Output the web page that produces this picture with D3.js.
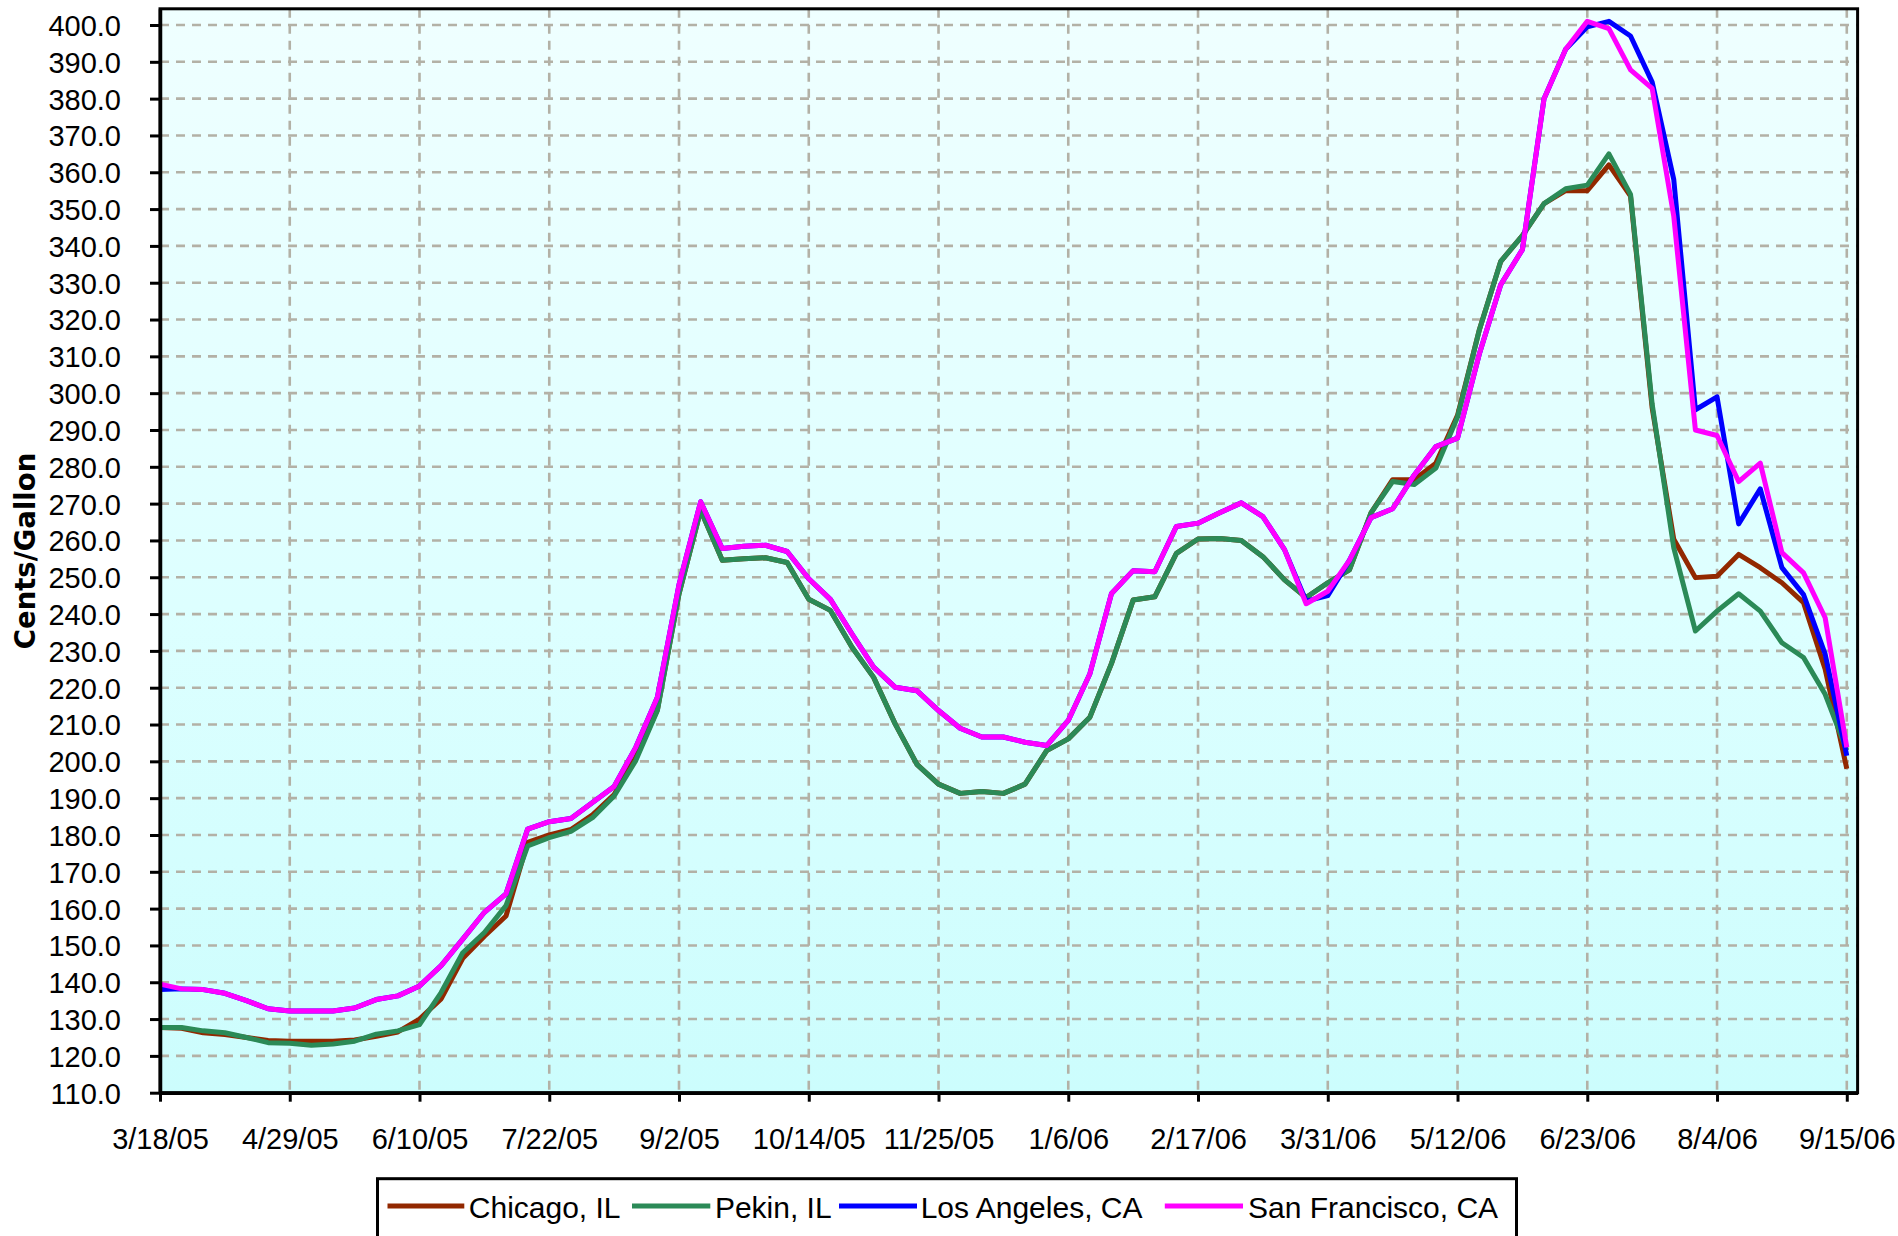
<!DOCTYPE html>
<html><head><meta charset="utf-8">
<script src="https://cdn.jsdelivr.net/npm/d3@7"></script>
<style>
html,body{margin:0;padding:0;background:#fff;}
svg{display:block;}
</style></head><body>
<svg id="chart" width="1898" height="1236"></svg>
<script>
// ---- data ----
const dates = ["3/18/05","3/25/05","4/1/05","4/8/05","4/15/05","4/22/05","4/29/05","5/6/05","5/13/05","5/20/05",
"5/27/05","6/3/05","6/10/05","6/17/05","6/24/05","7/1/05","7/8/05","7/15/05","7/22/05","7/29/05",
"8/5/05","8/12/05","8/19/05","8/26/05","9/2/05","9/9/05","9/16/05","9/23/05","9/30/05","10/7/05",
"10/14/05","10/21/05","10/28/05","11/4/05","11/11/05","11/18/05","11/25/05","12/2/05","12/9/05","12/16/05",
"12/23/05","12/30/05","1/6/06","1/13/06","1/20/06","1/27/06","2/3/06","2/10/06","2/17/06","2/24/06",
"3/3/06","3/10/06","3/17/06","3/24/06","3/31/06","4/7/06","4/14/06","4/21/06","4/28/06","5/5/06",
"5/12/06","5/19/06","5/26/06","6/2/06","6/9/06","6/16/06","6/23/06","6/30/06","7/7/06","7/14/06",
"7/21/06","7/28/06","8/4/06","8/11/06","8/18/06","8/25/06","9/1/06","9/8/06","9/15/06"];

const chicago = [127.7,127.5,126.3,125.8,125,124.2,124,124,124,124.3,
125.3,126.5,130,135.5,146.5,152.5,158,178,180,181.5,
185.5,191,201,214,245.5,268.2,254.6,255,255.3,254,
244,241,231,222.8,210.1,199.2,193.8,191.3,191.8,191.3,
193.8,202.9,206.1,212,226.6,243.8,244.7,256.5,260.4,260.5,
260,255.6,249.3,244.5,248.5,252,267.5,276.5,276.5,281,
294,317,335.8,342.8,351.5,355,355,362,353.5,296,
260.3,249.9,250.3,256.2,252.6,248.5,243.1,225,198];

const pekin = [127.7,127.7,126.8,126.3,125,123.6,123.4,122.9,123.2,124,
125.9,126.8,128.5,137.2,148,153.5,160.8,177,179.3,181,
184.7,190.6,200.2,213.8,245.5,268.2,254.6,255,255.3,254,
244,241,231,222.8,210.1,199.2,193.8,191.3,191.8,191.3,
193.8,202.9,206.1,212,226.6,243.8,244.7,256.5,260.4,260.5,
260,255.6,249.3,244.5,248.5,252,267.5,276,275.2,279.7,
293.5,317,335.8,342.8,351.5,355.5,356.5,365,354,297,
258,235.4,240.8,245.5,240.8,232.2,228.2,218.2,203];

const losAngeles = [138,138.2,138,137,135,132.8,132.2,132.2,132.2,133,
135.3,136.3,139,144.5,151.7,159,164,181.6,183.6,184.5,
188.8,193.2,203.8,217.4,248,270.5,257.8,258.4,258.7,257,
249.6,244,234.6,225.6,220.1,219.2,213.8,209,206.6,206.6,
205.2,204.3,211.1,223.8,245.6,251.8,251.5,263.8,264.7,267.5,
270.2,266.5,257.5,243.5,245,254.6,266.2,268.6,277.8,285.5,
287.8,310.5,329.5,339,380,393.4,399.5,401,397,384.5,
358,295.5,299,264.5,274,252.6,245.3,229.1,201.5];

const sanFrancisco = [139.5,138.2,138,137,135,132.8,132.2,132.2,132.2,133,
135.3,136.3,139,144.5,151.7,159,164,181.6,183.6,184.5,
188.8,193.2,203.8,217.4,248,270.5,257.8,258.4,258.7,257,
249.6,244,234.6,225.6,220.1,219.2,213.8,209,206.6,206.6,
205.2,204.3,211.1,223.8,245.6,251.8,251.5,263.8,264.7,267.5,
270.2,266.5,257.5,242.8,246.2,254.6,266.2,268.6,277.8,285.5,
287.8,310.5,329.5,339,380,393.4,401,399,387.8,382.8,
348,290,288.5,276,281,256.7,251.2,239,203.8];

const seriesNames = ["Chicago, IL","Pekin, IL","Los Angeles, CA","San Francisco, CA"];
const seriesColors = ["#922800","#2B8A57","#0000FF","#FF00FF"];
const xTickLabels = ["3/18/05","4/29/05","6/10/05","7/22/05","9/2/05","10/14/05","11/25/05","1/6/06","2/17/06","3/31/06","5/12/06","6/23/06","8/4/06","9/15/06"];
const yTickValues = [110,120,130,140,150,160,170,180,190,200,210,220,230,240,250,260,270,280,290,300,310,320,330,340,350,360,370,380,390,400];
const yTitle = "Cents/Gallon";

// ---- layout ----
const parse = d3.utcParse("%m/%d/%y");
const fmt = d3.utcFormat("%-m/%-d/%y");
const svg = d3.select("#chart");
const L = 160, R = 1857.6, T = 8.8, B = 1092.7;

const x = d3.scaleUtc()
  .domain([parse("3/18/05"), new Date(Date.UTC(2006, 8, 18, 12))])
  .range([L, R]);
const y = d3.scaleLinear().domain([110, 404.4]).range([B, T]);

const defs = svg.append("defs");
const grad = defs.append("linearGradient").attr("id","bg").attr("x1",0).attr("y1",0).attr("x2",0).attr("y2",1);
grad.append("stop").attr("offset","0%").attr("stop-color","#EFFFFF");
grad.append("stop").attr("offset","55%").attr("stop-color","#DDFFFF");
grad.append("stop").attr("offset","100%").attr("stop-color","#CCFDFD");

svg.append("rect").attr("x",L).attr("y",T).attr("width",R-L).attr("height",B-T).attr("fill","url(#bg)");

// gridlines
const grid = svg.append("g").attr("stroke","#B3B1A6").attr("stroke-width",2.6).attr("stroke-dasharray","9,7");
grid.selectAll("line.h").data(yTickValues.filter(v => v > 110)).join("line")
  .attr("x1",L).attr("x2",R).attr("y1",d=>y(d)).attr("y2",d=>y(d));
grid.selectAll("line.v").data(xTickLabels.slice(1).map(parse)).join("line")
  .attr("x1",d=>x(d)).attr("x2",d=>x(d)).attr("y1",T).attr("y2",B);

// frame
svg.append("rect").attr("x",L).attr("y",T).attr("width",R-L).attr("height",B-T)
  .attr("fill","none").attr("stroke","#000").attr("stroke-width",3);

// series
const series = [chicago, pekin, losAngeles, sanFrancisco];
const line = d3.line().x((d,i)=>x(parse(dates[i]))).y(d=>y(d));
series.forEach((vals, k) => {
  svg.append("path").datum(vals).attr("d", line)
    .attr("fill","none").attr("stroke",seriesColors[k]).attr("stroke-width",5)
    .attr("stroke-linejoin","round").attr("stroke-linecap","butt");
});

// axes
const fontFam = "'Liberation Sans', Arial, sans-serif";
const yAxis = svg.append("g").attr("transform",`translate(${L},0)`)
  .call(d3.axisLeft(y).tickValues(yTickValues).tickFormat(d3.format(".1f")).tickSize(10).tickSizeOuter(0).tickPadding(29));
const xAxis = svg.append("g").attr("transform",`translate(0,${B})`)
  .call(d3.axisBottom(x).tickValues(xTickLabels.map(parse)).tickFormat(fmt).tickSize(9).tickSizeOuter(0).tickPadding(26.7));
[yAxis, xAxis].forEach(g => {
  g.select(".domain").attr("stroke","#000").attr("stroke-width",3.5);
  g.selectAll(".tick line").attr("stroke","#000").attr("stroke-width",3);
  g.selectAll(".tick text").attr("font-family",fontFam).attr("font-size",29).attr("fill","#000");
});
yAxis.selectAll(".tick text").attr("dy","0.36em");

svg.append("text").attr("transform","translate(35,551) rotate(-90)")
  .attr("text-anchor","middle").attr("font-family","'DejaVu Sans', sans-serif")
  .attr("font-weight","bold").attr("font-size",27.5).attr("fill","#000").text(yTitle);

// legend
const legendLayout = [
  {x1:387.5, x2:464.3, tx:468.8},
  {x1:632, x2:710.3, tx:714.9},
  {x1:839, x2:917, tx:920.7},
  {x1:1164.8, x2:1243, tx:1248}
];
const lg = svg.append("g");
lg.append("rect").attr("x",377.5).attr("y",1178.7).attr("width",1139).attr("height",90)
  .attr("fill","#fff").attr("stroke","#000").attr("stroke-width",3);
seriesNames.forEach((name, k) => {
  const p = legendLayout[k];
  lg.append("line").attr("x1",p.x1).attr("x2",p.x2).attr("y1",1206).attr("y2",1206)
    .attr("stroke",seriesColors[k]).attr("stroke-width",5);
  lg.append("text").attr("x",p.tx).attr("y",1217.5).attr("font-family",fontFam)
    .attr("font-size",30).attr("fill","#000").text(name);
});
</script>
</body></html>
